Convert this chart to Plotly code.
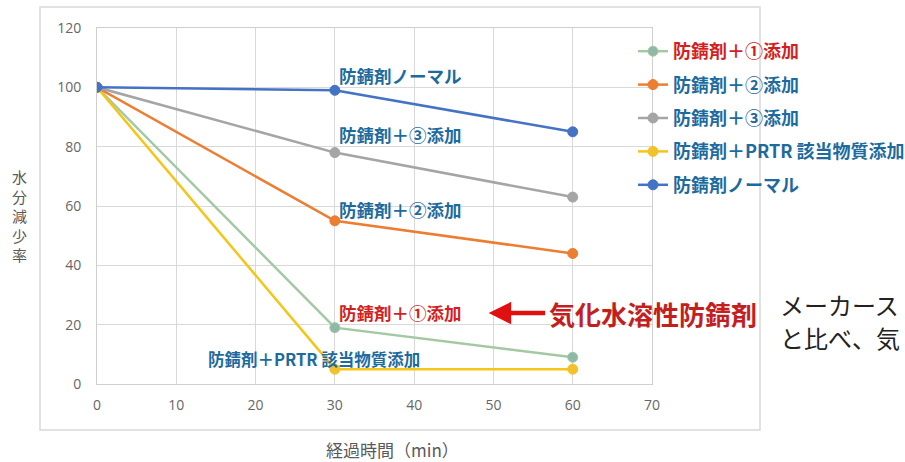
import plotly.graph_objects as go

# elapsed time (min)
elapsed_min = [0, 30, 60]

# water loss rate for each rust inhibitor formulation
series_names = [
    "防錆剤＋①添加",
    "防錆剤＋②添加",
    "防錆剤＋③添加",
    "防錆剤＋PRTR 該当物質添加",
    "防錆剤ノーマル",
]
add_1 = [100, 19, 9]
add_2 = [100, 55, 44]
add_3 = [100, 78, 63]
add_prtr = [100, 5, 5]
normal = [100, 99, 85]

series_values = [add_1, add_2, add_3, add_prtr, normal]
line_colors = ["#a3c9a3", "#ed7d31", "#a5a5a5", "#f5c518", "#4472c4"]
marker_colors = ["#8fb8a8", "#ed7d31", "#a5a5a5", "#f2c12e", "#4472c4"]
legend_text_colors = ["#d41f1f", "#1d6b9e", "#1d6b9e", "#1d6b9e", "#1d6b9e"]

x_ticks = [0, 10, 20, 30, 40, 50, 60, 70]
y_ticks = [0, 20, 40, 60, 80, 100, 120]

JP = "Noto Sans CJK JP"
BLUE = "#1d6b9e"
RED = "#d41f1f"
W, H = 905, 462

fig = go.Figure()
for i, (name, vals) in enumerate(zip(series_names, series_values)):
    fig.add_trace(go.Scatter(
        x=elapsed_min, y=vals, mode="lines+markers",
        name=f"<b><span style='color:{legend_text_colors[i]}'>{name}</span></b>",
        legendgroup=f"g{i}",
        line=dict(color=line_colors[i], width=2.5),
        marker=dict(size=10, color=marker_colors[i],
                    line=dict(color=line_colors[i], width=1)),
    ))

# labels placed beside the 30-minute points (text, x, y, colour, pixel lift)
point_labels = [
    ("防錆剤ノーマル", 30, normal[1], BLUE, 15),
    ("防錆剤＋③添加", 30, add_3[1], BLUE, 18),
    ("防錆剤＋②添加", 30, add_2[1], BLUE, 11),
    ("防錆剤＋①添加", 30, add_1[1], RED, 15),
]
annotations = []
for text, x, y, color, lift in point_labels:
    annotations.append(dict(
        x=x, y=y, xref="x", yref="y", text=f"<b>{text}</b>",
        showarrow=False, xanchor="left", yanchor="middle",
        xshift=2, yshift=lift,
        font=dict(family=JP, size=17.5, color=color),
    ))
annotations.append(dict(
    x=30, y=add_prtr[1], xref="x", yref="y",
    text="<b>防錆剤＋PRTR 該当物質添加</b>", showarrow=False,
    xanchor="center", yanchor="middle", yshift=10, xshift=-21,
    font=dict(family=JP, size=16.5, color=BLUE),
))

# arrow pointing at the ①-added label
annotations.append(dict(
    x=49.4, y=23.9, xref="x", yref="y", text="",
    showarrow=True, ax=58, ay=0, axref="pixel", ayref="pixel",
    arrowhead=2, arrowsize=1.0, arrowwidth=4.5, arrowcolor="#e01010",
))
annotations.append(dict(
    x=(547 - 97) / 555, y=(384 - 313) / 356, xref="paper", yref="paper",
    text="<b>気化水溶性防錆剤</b>", showarrow=False,
    xanchor="left", yanchor="middle",
    font=dict(family=JP, size=26, color="#c41f1f"),
))
annotations.append(dict(
    x=(778 - 97) / 555, y=(384 - 304) / 356, xref="paper", yref="paper",
    text="メーカース", showarrow=False, align="left",
    xanchor="left", yanchor="middle",
    font=dict(family=JP, size=24, color="#222222"),
))
annotations.append(dict(
    x=(778 - 97) / 555, y=(384 - 337) / 356, xref="paper", yref="paper",
    text="と比べ、気", showarrow=False, align="left",
    xanchor="left", yanchor="middle",
    font=dict(family=JP, size=24, color="#222222"),
))

# axis titles
annotations.append(dict(
    x=(19 - 97) / 555, y=(384 - 216) / 356, xref="paper", yref="paper",
    text="水<br>分<br>減<br>少<br>率", showarrow=False,
    xanchor="center", yanchor="middle",
    font=dict(family=JP, size=15, color="#595959"),
))
annotations.append(dict(
    x=(392 - 97) / 555, y=(384 - 449) / 356, xref="paper", yref="paper",
    text="経過時間（min）", showarrow=False,
    xanchor="center", yanchor="middle",
    font=dict(family=JP, size=17, color="#595959"),
))

# chart frame
shapes = [dict(
    type="rect", xref="paper", yref="paper",
    x0=(40 - 97) / 555, x1=(760 - 97) / 555,
    y0=(384 - 430) / 356, y1=(384 - 7) / 356,
    line=dict(color="#d9d9d9", width=1.5), fillcolor="rgba(0,0,0,0)",
    layer="below",
)]

fig.update_layout(
    width=W, height=H,
    margin=dict(l=97, r=253, t=28, b=78, autoexpand=False),
    paper_bgcolor="white", plot_bgcolor="white",
    showlegend=True,
    legend=dict(
        xref="container", yref="container",
        x=633 / W, y=(H - 33) / H, xanchor="left", yanchor="top",
        font=dict(family=JP, size=18),
        bgcolor="rgba(0,0,0,0)", tracegroupgap=7, itemwidth=30,
        borderwidth=0,
    ),
    annotations=annotations,
    shapes=shapes,
    xaxis=dict(
        range=[0, 70], tickvals=x_ticks, showgrid=True, gridcolor="#d9d9d9",
        zeroline=False, showline=True, linecolor="#cfcfcf", mirror=True,
        tickfont=dict(family="Open Sans", size=14, color="#666666"),
        ticks="", ticklabelstandoff=8, fixedrange=True,
    ),
    yaxis=dict(
        range=[0, 120], tickvals=y_ticks, showgrid=True, gridcolor="#d9d9d9",
        zeroline=False, showline=True, linecolor="#cfcfcf", mirror=True,
        tickfont=dict(family="Open Sans", size=14, color="#666666"),
        ticks="", ticklabelstandoff=12, fixedrange=True,
    ),
)

fig.write_html("out.html")
